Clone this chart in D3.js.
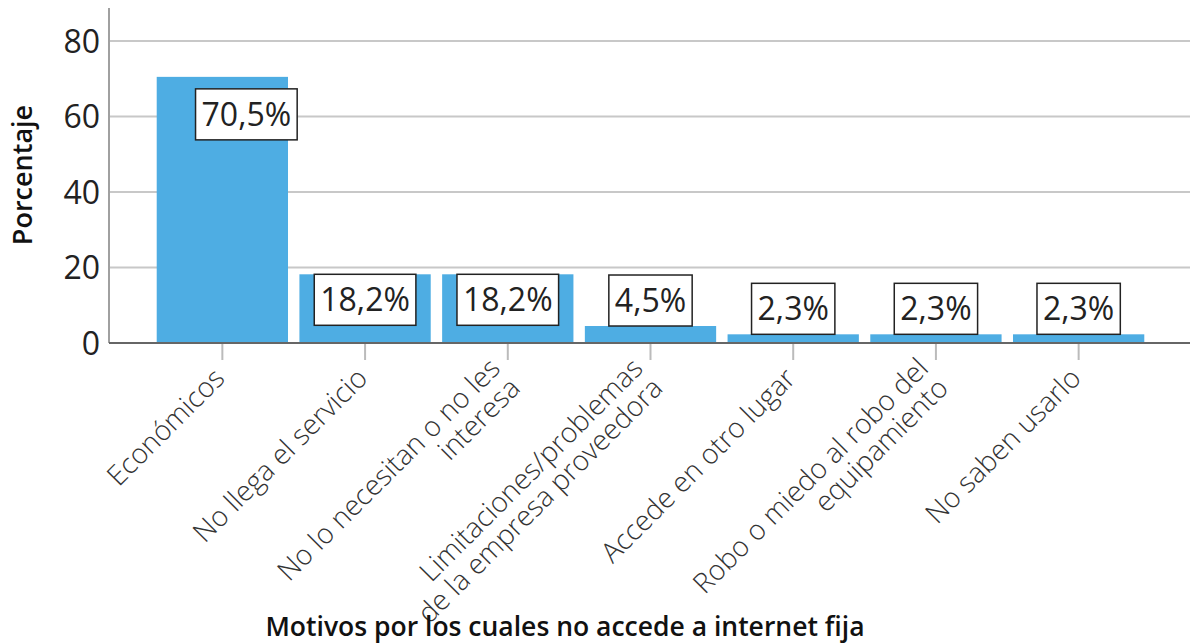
<!DOCTYPE html>
<html>
<head>
<meta charset="utf-8">
<script src="https://cdn.jsdelivr.net/npm/d3@7"></script>
<style>
    body { margin: 0; background: #fff; }
    text { font-family: "Open Sans", "Noto Sans", sans-serif; }
</style>
</head>
<body>
<svg id="chart" width="1190" height="644"></svg>
<script>
const categories = [
    "Económicos",
    "No llega el servicio",
    "No lo necesitan o no les interesa",
    "Limitaciones/problemas de la empresa proveedora",
    "Accede en otro lugar",
    "Robo o miedo al robo del equipamiento",
    "No saben usarlo"
];
const tickLabels = [
    ["Económicos"],
    ["No llega el servicio"],
    ["No lo necesitan o no les", "interesa"],
    ["Limitaciones/problemas", "de la empresa proveedora"],
    ["Accede en otro lugar"],
    ["Robo o miedo al robo del", "equipamiento"],
    ["No saben usarlo"]
];
const values = [70.5, 18.2, 18.2, 4.5, 2.3, 2.3, 2.3];
const yTicks = [0, 20, 40, 60, 80];

const width = 1190, height = 644;
const plot = {left: 109, right: 1190, top: 8, bottom: 343};

let svg = d3.select("#chart");

let x = d3.scaleBand()
    .domain(categories)
    .range([151, 1150])
    .paddingInner(0.08)
    .paddingOuter(0.04);

let y = d3.scaleLinear()
    .domain([0, 80])
    .range([plot.bottom, 41]);

/**
 * Gridlines, y tick labels and the x tick marks
 */
function drawAxes() {
    svg.append("g")
        .selectAll("line")
        .data(yTicks.filter(d => d > 0))
        .join("line")
        .attr("x1", plot.left)
        .attr("x2", plot.right)
        .attr("y1", d => y(d))
        .attr("y2", d => y(d))
        .attr("stroke", "#c8c8c8")
        .attr("stroke-width", 2);

    svg.append("g")
        .selectAll("text")
        .data(yTicks)
        .join("text")
        .attr("x", 100)
        .attr("y", d => y(d))
        .attr("dy", "0.36em")
        .attr("text-anchor", "end")
        .attr("font-size", 32)
        .attr("fill", "#222")
        .text(d => d);

    // x ticks hang below the baseline
    svg.append("g")
        .selectAll("line")
        .data(categories)
        .join("line")
        .attr("x1", d => x(d) + x.bandwidth() / 2)
        .attr("x2", d => x(d) + x.bandwidth() / 2)
        .attr("y1", plot.bottom)
        .attr("y2", plot.bottom + 17)
        .attr("stroke", "#bbb")
        .attr("stroke-width", 2);
}

/**
 * Bars plus the boxed percentage labels
 */
function drawBars() {
    svg.append("g")
        .selectAll("rect")
        .data(values)
        .join("rect")
        .attr("x", (d, i) => x(categories[i]))
        .attr("y", d => y(d))
        .attr("width", x.bandwidth())
        .attr("height", d => y(0) - y(d))
        .attr("fill", "#4eade3");

    // axis lines go over the bars
    svg.append("line")
        .attr("x1", plot.left).attr("x2", plot.left)
        .attr("y1", plot.top).attr("y2", plot.bottom)
        .attr("stroke", "#a0a0a0")
        .attr("stroke-width", 2);
    svg.append("line")
        .attr("x1", plot.left).attr("x2", plot.right)
        .attr("y1", plot.bottom).attr("y2", plot.bottom)
        .attr("stroke", "#666")
        .attr("stroke-width", 2);

    let boxH = 51;
    let labels = svg.append("g")
        .selectAll("g")
        .data(values)
        .join("g");

    labels.each(function (d, i) {
        let g = d3.select(this);
        let barH = y(0) - y(d);
        let cx = x(categories[i]) + x.bandwidth() / 2;
        let top;
        //Tall bars get the label inside, nudged right; short ones sit on top
        if (barH > 2 * boxH) {
            top = y(d) + 12;
            cx += 24;
        } else if (barH >= boxH) {
            top = y(d);
        } else {
            top = y(d) - boxH;
        }
        let rect = g.append("rect");
        let txt = g.append("text")
            .attr("x", cx)
            .attr("y", top + boxH / 2)
            .attr("dy", "0.36em")
            .attr("text-anchor", "middle")
            .attr("font-size", 32)
            .attr("fill", "#222")
            .text(d.toFixed(1).replace(".", ",") + "%");
        let w = txt.node().getComputedTextLength() + 12;
        rect.attr("x", cx - w / 2)
            .attr("y", top)
            .attr("width", w)
            .attr("height", boxH)
            .attr("fill", "#fff")
            .attr("stroke", "#222")
            .attr("stroke-width", 1.5);
    });
}

/**
 * Rotated category labels and the axis titles
 */
function drawLabels() {
    let lineH = 28;
    let t = svg.append("g")
        .selectAll("text")
        .data(tickLabels)
        .join("text")
        .attr("transform", (d, i) => "translate(" + (x(categories[i]) + x.bandwidth() / 2 - 3) + "," + (plot.bottom + 30) + ") rotate(-45)")
        .attr("text-anchor", "end")
        .attr("font-size", 28)
        .attr("font-weight", 300)
        .attr("fill", "#333");

    t.selectAll("tspan")
        .data(d => d.map((line, k) => ({line: line, k: k, n: d.length})))
        .join("tspan")
        .attr("x", 0)
        .attr("y", d => (d.k - (d.n - 1) / 2) * lineH)
        .attr("dy", "0.35em")
        .text(d => d.line);

    svg.append("text")
        .attr("x", 565)
        .attr("y", 636)
        .attr("text-anchor", "middle")
        .attr("font-size", 26.5)
        .attr("font-weight", 600)
        .attr("fill", "#111")
        .text("Motivos por los cuales no accede a internet fija");

    svg.append("text")
        .attr("transform", "translate(32,175) rotate(-90)")
        .attr("text-anchor", "middle")
        .attr("font-size", 27)
        .attr("font-weight", 600)
        .attr("fill", "#111")
        .text("Porcentaje");
}

drawAxes();
drawBars();
drawLabels();
</script>
</body>
</html>
